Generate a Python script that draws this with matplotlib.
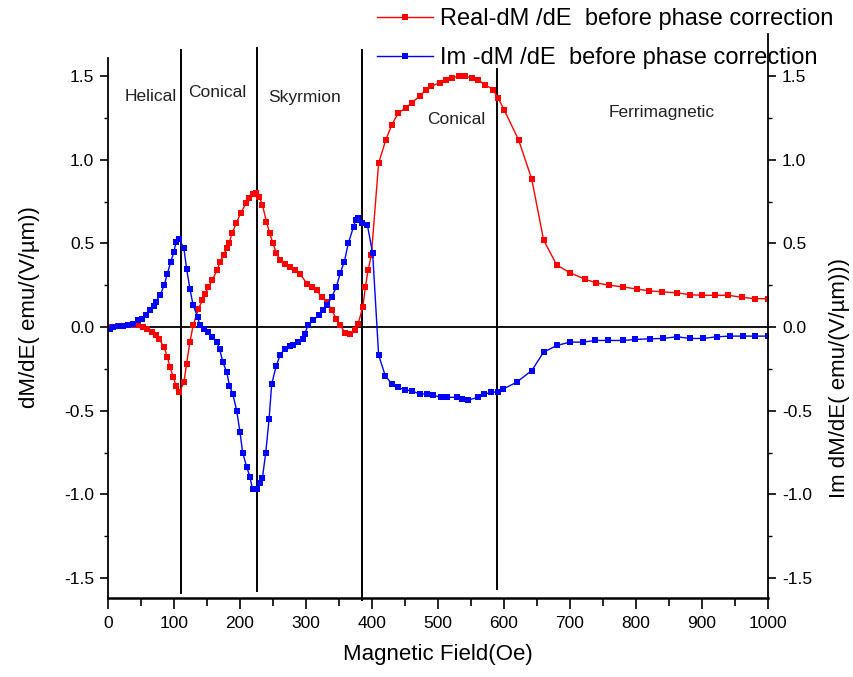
import matplotlib
matplotlib.use("Agg")
import matplotlib.pyplot as plt
import numpy as np
from matplotlib.ticker import MultipleLocator, FixedLocator

plt.rcParams['font.family'] = ['Liberation Sans', 'DejaVu Sans']

# Real part (red)
campo_real = [0, 8, 15, 23, 31, 38, 46, 53, 59, 66, 72, 77, 85, 90, 94, 99, 103, 108,
              115, 119, 124, 129, 137, 143, 147, 152, 158, 165, 170, 175, 180, 183, 188,
              194, 201, 209, 214, 219, 224, 229, 234, 240, 245, 250, 255, 261, 268, 276,
              283, 291, 301, 309, 316, 324, 332, 339, 346, 352, 359, 367, 374, 379, 386,
              390, 394, 399, 410, 421, 430, 440, 451, 460, 472, 482, 489, 503, 512, 521,
              532, 541, 551, 561, 571, 583, 591, 600, 622, 642, 660, 680, 700, 722, 739,
              759, 781, 801, 820, 840, 862, 882, 900, 920, 940, 960, 980, 1000]
real_dm = [0.0, 0.0, 0.005, 0.005, 0.01, 0.01, 0.01, 0.0, -0.01, -0.03, -0.05, -0.07,
           -0.12, -0.18, -0.24, -0.30, -0.35, -0.39, -0.33, -0.22, -0.09, 0.01, 0.11,
           0.16, 0.20, 0.24, 0.28, 0.34, 0.39, 0.43, 0.47, 0.50, 0.56, 0.62, 0.68, 0.74,
           0.77, 0.795, 0.80, 0.78, 0.73, 0.63, 0.56, 0.50, 0.44, 0.40, 0.38, 0.36, 0.34,
           0.32, 0.26, 0.24, 0.22, 0.18, 0.15, 0.10, 0.05, 0.01, -0.035, -0.04, -0.02,
           0.02, 0.12, 0.24, 0.34, 0.43, 0.98, 1.12, 1.21, 1.28, 1.31, 1.34, 1.38, 1.42,
           1.44, 1.46, 1.476, 1.49, 1.50, 1.50, 1.49, 1.476, 1.45, 1.42, 1.37, 1.30,
           1.12, 0.885, 0.52, 0.37, 0.325, 0.287, 0.265, 0.25, 0.24, 0.227, 0.217, 0.21,
           0.205, 0.193, 0.19, 0.19, 0.19, 0.178, 0.17, 0.17]

# Imaginary part (blue)
campo_im = [0, 3, 8, 16, 23, 31, 38, 46, 51, 57, 64, 69, 72, 79, 85, 90, 95, 100, 103,
            108, 115, 119, 124, 129, 136, 139, 146, 152, 158, 165, 169, 174, 180, 184,
            189, 195, 200, 204, 210, 215, 219, 225, 230, 234, 239, 244, 248, 255, 261,
            268, 275, 281, 288, 295, 298, 303, 311, 319, 326, 332, 339, 346, 352, 358,
            364, 372, 375, 379, 385, 393, 401, 410, 420, 430, 440, 450, 460, 472, 483,
            492, 504, 514, 529, 537, 546, 560, 570, 581, 591, 599, 619, 642, 660, 680,
            700, 720, 738, 758, 781, 799, 821, 841, 862, 882, 902, 922, 942, 962, 980, 1000]
im_dm = [-0.01, -0.01, 0.0, 0.006, 0.006, 0.012, 0.02, 0.04, 0.05, 0.07, 0.10, 0.125,
         0.15, 0.19, 0.25, 0.32, 0.39, 0.45, 0.51, 0.525, 0.47, 0.35, 0.23, 0.13, 0.06,
         0.01, -0.01, -0.03, -0.06, -0.09, -0.13, -0.21, -0.27, -0.35, -0.40, -0.50,
         -0.63, -0.75, -0.835, -0.895, -0.97, -0.97, -0.935, -0.90, -0.75, -0.55, -0.34,
         -0.23, -0.165, -0.13, -0.115, -0.11, -0.09, -0.07, -0.04, 0.01, 0.04, 0.07,
         0.10, 0.13, 0.18, 0.24, 0.325, 0.39, 0.50, 0.60, 0.64, 0.655, 0.62, 0.61, 0.44,
         -0.167, -0.29, -0.34, -0.36, -0.377, -0.38, -0.40, -0.40, -0.406, -0.42, -0.42,
         -0.42, -0.43, -0.436, -0.42, -0.40, -0.39, -0.387, -0.37, -0.33, -0.26, -0.15,
         -0.11, -0.09, -0.09, -0.08, -0.08, -0.08, -0.074, -0.07, -0.068, -0.058, -0.068,
         -0.068, -0.058, -0.054, -0.054, -0.054, -0.054]

# Phase boundaries and region names
fronteras = [111, 225, 385, 589]
fronteras_arriba = [1.656, 1.67, 1.656, 1.54]
fronteras_abajo = [-1.59, -1.578, -1.63, -1.566]
fases = ['Helical', 'Conical', 'Skyrmion', 'Conical', 'Ferrimagnetic']
fases_x = [64, 165, 298, 527, 839]
fases_y = [1.38, 1.40, 1.37, 1.24, 1.28]

fig = plt.figure(figsize=(8.54, 6.77), dpi=100)
ax = fig.add_axes([0.1265, 0.1167, 0.7728, 0.8326])

l1, = ax.plot(campo_real, real_dm, color='#FF0000', lw=1, marker='s', ms=4.2, mew=0,
              label='Real-dM /dE  before phase correction')
l2, = ax.plot(campo_im, im_dm, color='#0000FF', lw=1, marker='s', ms=4.2, mew=0,
              label='Im -dM /dE  before phase correction')

ax.axhline(0, color='black', lw=1.3, zorder=1)
for xb, y1, y0 in zip(fronteras, fronteras_arriba, fronteras_abajo):
    ax.plot([xb, xb], [y0, y1], color='black', lw=1.4, zorder=1, clip_on=False)

for nombre, xf, yf in zip(fases, fases_x, fases_y):
    ax.text(xf, yf, nombre, ha='center', va='center', fontsize=12.5, color='#222222')

ax.set_xlim(0, 1000)
ax.set_ylim(-1.6195, 1.75)

ax.spines['top'].set_visible(False)
ax.spines['left'].set_bounds(-1.6195, 1.606)
ax.spines['bottom'].set_linewidth(1.8)
ax.spines['left'].set_linewidth(1.3)
ax.spines['right'].set_linewidth(1.3)

ax.xaxis.set_major_locator(MultipleLocator(100))
ax.xaxis.set_minor_locator(MultipleLocator(50))
ax.yaxis.set_major_locator(MultipleLocator(0.5))
ax.yaxis.set_minor_locator(FixedLocator(np.arange(-1.25, 1.5, 0.5)))
ax.yaxis.set_major_formatter(plt.FuncFormatter(lambda v, p: f'{v:.1f}'))

ax.tick_params(axis='x', which='major', direction='out', length=8, width=1.2,
               labelsize=12.5, pad=5)
ax.tick_params(axis='x', which='minor', direction='out', length=6, width=1.2)
ax.tick_params(axis='y', which='both', direction='out', left=True, right=True,
               labelleft=True, labelright=True, labelsize=12.5)
ax.tick_params(axis='y', which='major', length=6, width=1.2, pad=4)
ax.tick_params(axis='y', which='minor', length=3, width=1.0)

fig.text(0.513, 0.018, 'Magnetic Field(Oe)', ha='center', va='bottom', fontsize=16)
fig.text(0.035, 0.547, 'dM/dE( emu/(V/µm))', rotation=90, ha='center', va='center',
         fontsize=16)
fig.text(0.983, 0.442, 'Im dM/dE( emu/(V/µm)))', rotation=90, ha='center', va='center',
         fontsize=16)

fig.legend(handles=[l1, l2], loc='upper left', bbox_to_anchor=(0.439, 0.992),
           frameon=False, fontsize=17, handlelength=2.37, handletextpad=0.3,
           labelspacing=0.74, borderpad=0.1, borderaxespad=0)

fig.savefig('out.png', dpi=100)
